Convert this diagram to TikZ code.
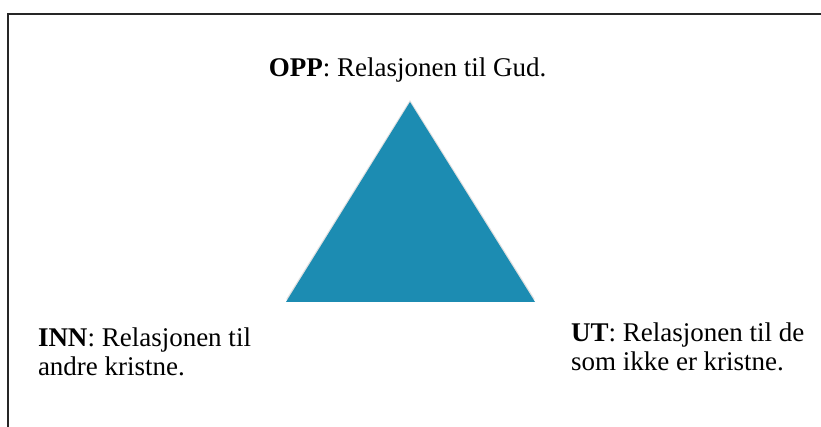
\documentclass[tikz,border=0pt]{standalone}
\usepackage{fontspec}
\setmainfont{Liberation Serif}
\definecolor{tri}{RGB}{28,140,178}
\begin{document}
\begin{tikzpicture}[x=1pt,y=-1pt,
  lbl/.style={inner sep=0pt,outer sep=0pt,font=\fontsize{27}{28.3}\selectfont,align=left},
  frame/.style={line width=1.5pt,draw=black!85}]
\useasboundingbox[fill=white] (0,0) rectangle (821,427);
\coordinate (fa) at (8,427);
\coordinate (fb) at (8,14);
\coordinate (fc) at (822,14);
\draw[frame] (fa) -- (fb) -- (fc);
\coordinate (apex) at (410,102);
\coordinate (bl) at (286,302);
\coordinate (br) at (535,302);
\fill[black,opacity=0.12] ([yshift=2.5]bl) -- ([yshift=2.5]br) -- ([yshift=2]apex) -- cycle;
\fill[tri] (apex) -- (br) -- (bl) -- cycle;
\node[lbl,anchor=base] (opp) at (407.5,76.7) {\textbf{OPP}: Relasjonen til Gud.};
\node[lbl,anchor=base west] (inn) at (38,375) {\textbf{INN}: Relasjonen til\\andre kristne.};
\node[lbl,anchor=base west] (ut) at (571,370) {\textbf{UT}: Relasjonen til de\\som ikke er kristne.};
\end{tikzpicture}
\end{document}
